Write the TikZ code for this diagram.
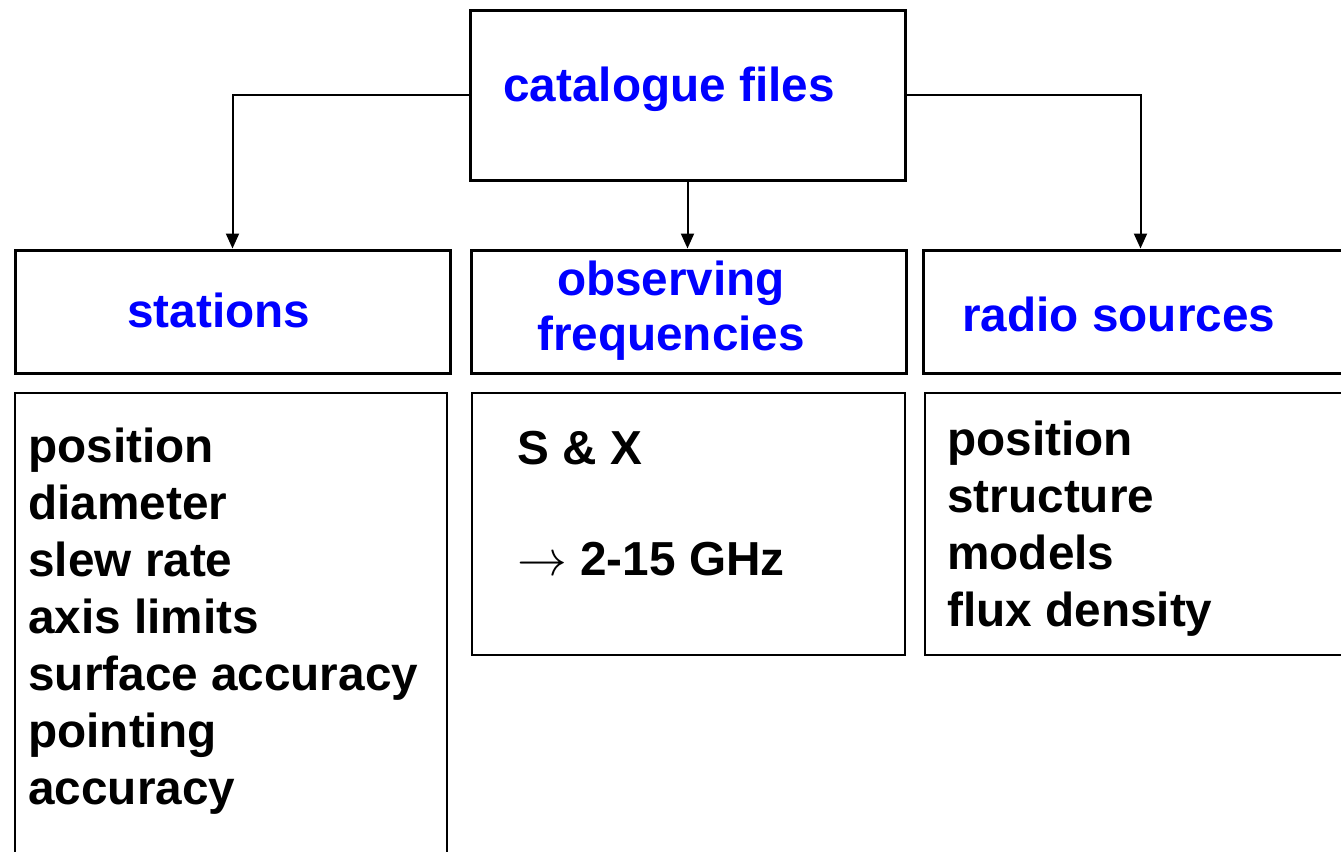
\documentclass[tikz,border=0pt]{standalone}
\usepackage{fontspec}
\setmainfont{Liberation Sans}
\usetikzlibrary{arrows.meta}

\tikzset{
    headbox/.style={draw, line width=1.5pt, minimum width=217.5pt, minimum height=61.5pt, inner sep=0pt},
    listbox/.style={draw, line width=1pt, inner sep=0pt},
    headtext/.style={text=blue, font={\fontsize{23.85}{27.5}\selectfont\bfseries}, inner sep=0pt},
    listtext/.style={font={\fontsize{23.85}{28.5}\selectfont\bfseries}, align=left, inner sep=0pt},
    link/.style={line width=1pt, -{Triangle[width=6.5pt,length=7.5pt]}}
}

\begin{document}
\begin{tikzpicture}[x=0.5pt, y=-0.5pt]
    \useasboundingbox (0,0) rectangle (1341,852);
    \clip (0,0) rectangle (1341,852);
    % boxes
    \node[headbox, minimum height=85pt] (cat) at (687.5,95) {};
    \node[headbox] (stn) at (232.5,311.5) {};
    \node[headbox] (frq) at (689,311.5) {};
    \node[headbox] (src) at (1140.5,311.5) {};
    \node[listbox, minimum width=216pt, minimum height=253.5pt] (stnlist) at (231,646.5) {};
    \node[listbox, minimum width=216.5pt, minimum height=131pt] (frqlist) at (688.5,524) {};
    \node[listbox, minimum width=216.5pt, minimum height=131pt] (srclist) at (1141.5,524) {};
    % headings (base = last line)
    \node[headtext, anchor=base west] (cattext) at (503,101) {catalogue files};
    \node[headtext, anchor=base west] (stntext) at (127,327) {stations};
    \node[headtext, anchor=base, align=center] (frqtext) at (671,350) {observing\\frequencies};
    \node[headtext, anchor=base west] (srctext) at (962,331) {radio sources};
    % lists
    \node[listtext, anchor=base west] (stnitems) at (28,804)
        {position\\diameter\\slew rate\\axis limits\\surface accuracy\\pointing\\accuracy};
    \node[listtext, anchor=base west] (frqitems) at (517,575)
        {S \& X\\[27pt]$\rightarrow$ 2-15 GHz};
    \node[listtext, anchor=base west] (srcitems) at (947,626)
        {position\\structure\\models\\flux density};
    % connectors
    \draw[link] (cat.west) -| (stn.north);
    \draw[link] (cat.east) -| (src.north);
    \draw[link] (cat.south) -- (cat.south |- frq.north);
\end{tikzpicture}
\end{document}
